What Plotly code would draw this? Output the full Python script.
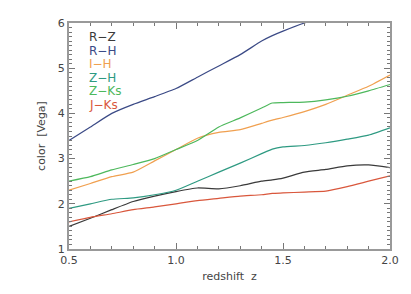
import plotly.graph_objects as go

z = [0.5, 0.6, 0.7, 0.8, 0.9, 1.0, 1.1, 1.2, 1.3, 1.4, 1.45, 1.5, 1.6, 1.7, 1.8, 1.9, 2.0]
rz  = [1.50, 1.68, 1.87, 2.05, 2.17, 2.27, 2.35, 2.33, 2.40, 2.50, 2.53, 2.57, 2.70, 2.76, 2.84, 2.86, 2.80]
rh  = [3.40, 3.70, 4.00, 4.20, 4.37, 4.55, 4.80, 5.05, 5.30, 5.60, 5.72, 5.82, 6.00, 6.15, 6.30, 6.45, 6.60]
ih  = [2.30, 2.45, 2.60, 2.70, 2.95, 3.20, 3.45, 3.58, 3.64, 3.78, 3.85, 3.91, 4.04, 4.20, 4.40, 4.60, 4.85]
zh  = [1.90, 2.00, 2.10, 2.13, 2.20, 2.30, 2.50, 2.70, 2.90, 3.11, 3.21, 3.26, 3.29, 3.35, 3.43, 3.52, 3.68]
zks = [2.50, 2.60, 2.75, 2.87, 3.00, 3.20, 3.40, 3.70, 3.90, 4.12, 4.23, 4.24, 4.25, 4.30, 4.38, 4.50, 4.64]
jks = [1.60, 1.70, 1.78, 1.87, 1.93, 2.00, 2.07, 2.12, 2.17, 2.20, 2.23, 2.24, 2.26, 2.28, 2.38, 2.50, 2.62]

names = ["R\u2212Z", "R\u2212H", "I\u2212H", "Z\u2212H", "Z\u2212Ks", "J\u2212Ks"]
series = [rz, rh, ih, zh, zks, jks]
colors = ["#3a3a3a", "#3b4a86", "#f0a050", "#2e9a82", "#4db85c", "#d9573c"]

fig = go.Figure()
for n, s, c in zip(names, series, colors):
    fig.add_trace(go.Scatter(x=z, y=s, mode="lines", name=n,
                             line=dict(color=c, width=1.2, shape="spline", smoothing=0.5),
                             showlegend=False))

for i, (n, c) in enumerate(zip(names, colors)):
    fig.add_annotation(x=0, y=1, xref="paper", yref="paper", xanchor="left", yanchor="middle",
                       xshift=18, yshift=-14 - 13.6 * i, text=n, showarrow=False,
                       font=dict(color=c, size=12, family="DejaVu Sans"))

axis_common = dict(showgrid=False, zeroline=False, showline=True, linecolor="#999999", linewidth=2,
                   mirror="allticks", ticks="inside", ticklen=6, tickcolor="#777777", tickwidth=1,
                   automargin=False,
                   tickfont=dict(size=11, color="#444444", family="DejaVu Sans"))

fig.update_xaxes(range=[0.5, 2.0], dtick=0.5, tickformat=".1f",
                 minor=dict(dtick=0.1, ticklen=3, ticks="inside", tickcolor="#777777"),
                 title=dict(text="redshift  z", font=dict(size=11, color="#444444", family="DejaVu Sans"), standoff=6),
                 **axis_common)
fig.update_yaxes(range=[1, 6], dtick=1,
                 minor=dict(dtick=0.1, ticklen=3, ticks="inside", tickcolor="#777777"),
                 title=dict(text="color  [Vega]", font=dict(size=11, color="#444444", family="DejaVu Sans"), standoff=10),
                 **axis_common)

fig.update_layout(width=395, height=278, margin=dict(l=61, r=13, t=15, b=37),
                  paper_bgcolor="white", plot_bgcolor="white")
fig.write_html("out.html")
